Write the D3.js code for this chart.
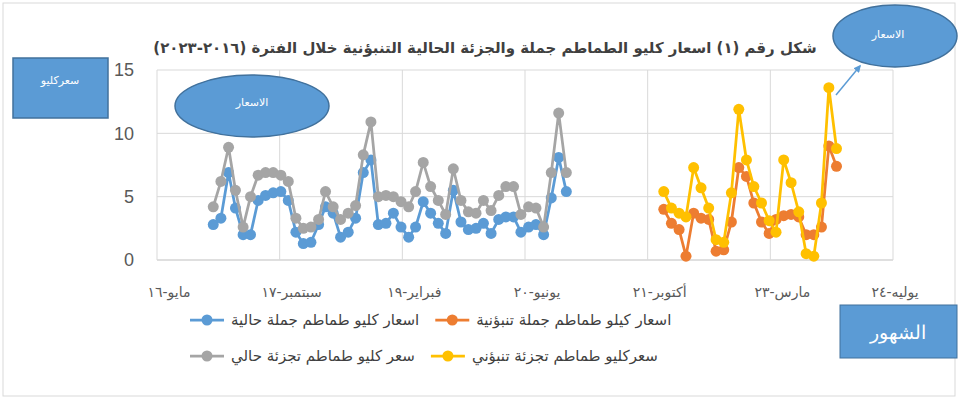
<!DOCTYPE html>
<html><head><meta charset="utf-8">
<script src="https://cdn.jsdelivr.net/npm/d3@7"></script>
<style>
body{margin:0;background:#fff;}
text{font-family:"DejaVu Sans","Liberation Sans",sans-serif;}
</style>
</head><body>
<svg id="c" width="960" height="401"></svg>
<script>
// ---------- data ----------
const tickLabels = ["مايو-١٦","سبتمبر-١٧","فبراير-١٩","يونيو-٢٠","أكتوبر-٢١","مارس-٢٣","يوليه-٢٤"];
const yTicks = [0,5,10,15];
const histStart = [2016, 11];  // Dec 2016, monthly
const fcStart = [2021, 11];    // Dec 2021, monthly
const wholesaleCurrent = [2.8,3.3,6.9,4.1,2.0,2.0,4.7,5.1,5.3,5.4,4.7,2.2,1.3,1.4,2.8,4.2,3.7,1.8,2.2,3.3,6.9,7.9,2.8,2.9,3.7,2.6,1.8,2.6,4.6,3.7,2.9,2.1,5.5,3.0,2.4,2.5,2.9,2.1,3.2,3.4,3.4,2.2,2.6,2.8,2.0,4.9,8.1,5.4];
const retailCurrent    = [4.2,6.2,8.9,5.5,2.6,5.0,6.7,6.9,6.9,6.7,6.2,3.3,2.5,2.6,3.2,5.4,4.2,3.2,3.7,4.3,8.3,10.9,5.0,5.1,5.0,4.6,4.2,5.4,7.7,5.8,4.7,3.6,7.2,4.7,3.8,3.7,4.7,3.9,5.1,5.8,5.8,3.6,4.2,4.1,2.6,6.9,11.6,6.9];
const wholesaleForecast = [4.0,2.9,2.4,0.3,3.7,3.3,3.2,0.7,0.8,3.0,7.3,6.6,4.5,3.0,2.1,3.2,3.5,3.6,3.4,2.0,2.0,2.6,9.0,7.4];
const retailForecast    = [5.4,4.1,3.7,3.4,7.3,5.7,4.1,1.6,1.4,5.3,11.9,7.9,5.8,4.5,3.1,2.2,7.9,6.1,3.8,0.5,0.3,4.5,13.6,8.8];
const seriesNames = ["اسعار كليو طماطم  جملة حالية","اسعار كيلو طماطم جملة تنبؤنية","سعر كليو طماطم تجزئة حالي","سعركليو طماطم تجزئة تنبؤني"];
const titleText = "شكل رقم (١) اسعار كليو الطماطم جملة والجزئة الحالية التنبؤنية خلال الفترة (٢٠١٦-٢٠٢٣)";

const colors = ["#5b9bd5","#ed7d31","#a5a5a5","#ffc000"];

const monthly = (start, vals) => vals.map((v,i) => ({date: new Date(start[0], start[1]+i, 15), v}));
const series = [
  {name: seriesNames[0], color: colors[0], pts: monthly(histStart, wholesaleCurrent)},
  {name: seriesNames[1], color: colors[1], pts: monthly(fcStart, wholesaleForecast)},
  {name: seriesNames[2], color: colors[2], pts: monthly(histStart, retailCurrent)},
  {name: seriesNames[3], color: colors[3], pts: monthly(fcStart, retailForecast)}
];

// ---------- layout ----------
const svg = d3.select("#c");
const L = 157, R = 893, T = 70, B = 260;
const d0 = new Date(2016,4,1), d1 = new Date(2024,6,1);
const x = d3.scaleTime().domain([d0,d1]).range([L,R]);
const y = d3.scaleLinear().domain([0,15]).range([B,T]);
const tickDates = d3.range(tickLabels.length).map(i => new Date(+d0 + i*(d1-d0)/(tickLabels.length-1)));

svg.append("rect").attr("x",3).attr("y",3).attr("width",952).attr("height",393)
  .attr("fill","#fff").attr("stroke","#d9d9d9");

// gridlines
svg.append("g").selectAll("line").data(yTicks).join("line")
  .attr("x1",L).attr("x2",R).attr("y1",d=>y(d)).attr("y2",d=>y(d))
  .attr("stroke",d=>d===0?"#bfbfbf":"#d9d9d9").attr("stroke-width",1);
svg.append("g").selectAll("line").data(tickDates).join("line")
  .attr("x1",d=>x(d)).attr("x2",d=>x(d)).attr("y1",T).attr("y2",B)
  .attr("stroke","#d9d9d9").attr("stroke-width",1);

// y labels
svg.append("g").selectAll("text").data(yTicks).join("text")
  .attr("x",134).attr("y",d=>y(d)).attr("dy","0.35em").attr("text-anchor","end")
  .attr("font-size",18).attr("fill","#595959").style("font-family","'Liberation Sans',Arial,sans-serif").text(d=>d);

// x labels
svg.append("g").selectAll("text").data(tickDates).join("text")
  .attr("x",(d,i)=>x(d)+(i===tickLabels.length-1?2:12)).attr("y",297).attr("text-anchor","middle")
  .attr("font-size",14).attr("fill","#595959").attr("direction","rtl").text((d,i)=>tickLabels[i]);

// lines and markers
const line = d3.line().x(d=>x(d.date)).y(d=>y(d.v));
series.forEach(s => {
  const g = svg.append("g");
  g.append("path").datum(s.pts).attr("d",line).attr("fill","none")
    .attr("stroke",s.color).attr("stroke-width",2.75).attr("stroke-linejoin","round");
  g.selectAll("circle").data(s.pts).join("circle")
    .attr("cx",d=>x(d.date)).attr("cy",d=>y(d.v)).attr("r",5.5).attr("fill",s.color);
});

// title
const title = svg.append("text").attr("x",485).attr("y",53).attr("text-anchor","middle")
  .attr("direction","rtl").attr("font-size",14).attr("font-weight","bold").attr("fill","#404040").text(titleText);
const tw = title.node().getComputedTextLength();
title.attr("font-size", 14*664/tw);

// legend
const rows = [[0,1],[2,3]];
const rowY = [320,356];
rows.forEach((r,ri) => {
  let cx = 190;
  r.forEach(si => {
    const s = series[si];
    const g = svg.append("g");
    g.append("line").attr("x1",cx).attr("x2",cx+34).attr("y1",rowY[ri]).attr("y2",rowY[ri])
      .attr("stroke",s.color).attr("stroke-width",2.75);
    g.append("circle").attr("cx",cx+17).attr("cy",rowY[ri]).attr("r",5.5).attr("fill",s.color);
    const t = g.append("text").attr("x",cx+41).attr("y",rowY[ri]).attr("dy","0.35em")
      .attr("text-anchor","end").attr("direction","rtl").attr("font-size",15).attr("fill","#404040").text(s.name);
    const w = t.node().getComputedTextLength();
    cx = cx + 41 + w + 16;
  });
});

// shapes
const blueFill = "#5b9bd5", blueStroke = "#41719c";
svg.append("rect").attr("x",13).attr("y",58).attr("width",95).attr("height",60)
  .attr("fill",blueFill).attr("stroke",blueStroke).attr("stroke-width",1.5);
svg.append("text").attr("x",60).attr("y",84).attr("text-anchor","middle").attr("direction","rtl")
  .attr("font-size",11).attr("fill","#fff").text("سعركليو");

svg.append("ellipse").attr("cx",252).attr("cy",106).attr("rx",77).attr("ry",31)
  .attr("fill",blueFill).attr("stroke",blueStroke).attr("stroke-width",1.5);
svg.append("text").attr("x",252).attr("y",106).attr("text-anchor","middle").attr("direction","rtl")
  .attr("font-size",11).attr("fill","#fff").text("الاسعار");

svg.append("ellipse").attr("cx",895).attr("cy",36).attr("rx",62).attr("ry",31)
  .attr("fill",blueFill).attr("stroke",blueStroke).attr("stroke-width",1.5);
svg.append("text").attr("x",888).attr("y",38).attr("text-anchor","middle").attr("direction","rtl")
  .attr("font-size",11).attr("fill","#fff").text("الاسعار");

svg.append("defs").append("marker").attr("id","ah").attr("viewBox","0 0 10 10")
  .attr("refX",8).attr("refY",5).attr("markerWidth",5).attr("markerHeight",5).attr("orient","auto")
  .append("path").attr("d","M0,0L10,5L0,10z").attr("fill",blueFill);
svg.append("line").attr("x1",836).attr("y1",95).attr("x2",860).attr("y2",66)
  .attr("stroke",blueFill).attr("stroke-width",1.5).attr("marker-end","url(#ah)");

svg.append("rect").attr("x",840).attr("y",305).attr("width",117).attr("height",53)
  .attr("fill",blueFill).attr("stroke",blueStroke).attr("stroke-width",1);
svg.append("text").attr("x",898).attr("y",332).attr("dy","0.35em").attr("text-anchor","middle").attr("direction","rtl")
  .attr("font-size",19).attr("fill","#fff").style("font-family","'Liberation Serif','DejaVu Serif',serif").text("الشهور");
</script>
</body></html>
